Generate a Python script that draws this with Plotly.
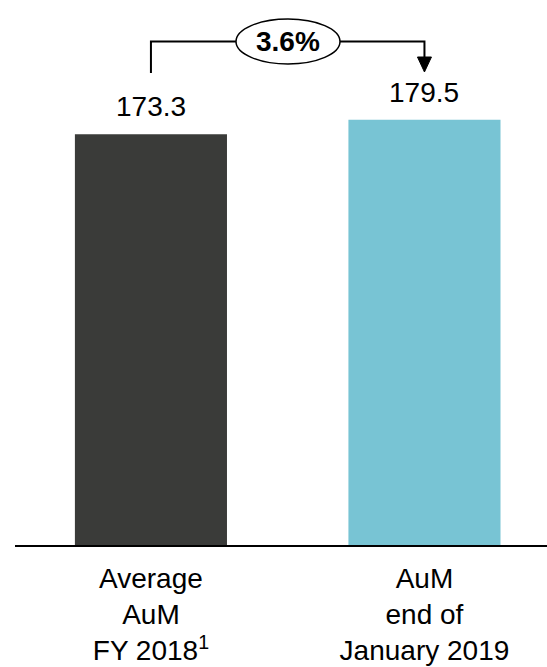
import plotly.graph_objects as go

# Assets under management (bn)
categories = ["Average<br>AuM<br>FY 2018<sup>1</sup>", "AuM<br>end of<br>January 2019"]
values = [173.3, 179.5]
bar_colors = ["#3a3b39", "#78c4d4"]
growth_label = "3.6%"

W, H = 547, 667
M_L, M_R, M_T, M_B = 15, 0, 0, 122
plot_h = H - M_T - M_B
x_range = [-0.497, 1.448]
y_max = 230

FONT = "Liberation Sans, Arial, sans-serif"


def px_to_x(px):
    span = x_range[1] - x_range[0]
    return x_range[0] + (px - M_L) / (W - M_L - M_R) * span


def py_to_paper(py):
    return 1 - (py - M_T) / plot_h


xs = list(range(len(values)))

fig = go.Figure()
fig.add_trace(go.Bar(
    x=xs, y=values, width=0.556,
    marker=dict(color=bar_colors, line=dict(width=0)),
    hoverinfo="skip",
))

# value labels above the bars
for x, v in zip(xs, values):
    fig.add_annotation(
        x=x, y=v, xref="x", yref="y", text=f"{v:.1f}", showarrow=False,
        yanchor="bottom", yshift=10,
        font=dict(family=FONT, size=28, color="#000000"),
    )

# growth bracket: from first bar to second bar with arrow
line_y = py_to_paper(41.5)
start_y = py_to_paper(73)
tip_y = py_to_paper(72)
head_y = py_to_paper(57)
x_a, x_b = xs[0], xs[1]
half_head = px_to_x(432) - px_to_x(425)

fig.add_shape(
    type="path", xref="x", yref="paper",
    path=f"M {x_a} {start_y} L {x_a} {line_y} L {x_b} {line_y} L {x_b} {head_y}",
    line=dict(color="#000000", width=2),
)
fig.add_shape(
    type="path", xref="x", yref="paper",
    path=f"M {x_b - half_head} {head_y} L {x_b + half_head} {head_y} L {x_b} {tip_y} Z",
    fillcolor="#000000", line=dict(color="#000000", width=1),
)
fig.add_shape(
    type="circle", xref="x", yref="paper",
    x0=px_to_x(236), x1=px_to_x(340),
    y0=py_to_paper(64), y1=py_to_paper(19),
    fillcolor="#ffffff", line=dict(color="#000000", width=1.5),
)
fig.add_annotation(
    x=(x_a + x_b) / 2, y=line_y, xref="x", yref="paper",
    xanchor="center", yanchor="middle",
    text=f"<b>{growth_label}</b>", showarrow=False,
    font=dict(family=FONT, size=28, color="#000000"),
)

fig.update_layout(
    width=W, height=H,
    margin=dict(l=M_L, r=M_R, t=M_T, b=M_B, pad=0),
    paper_bgcolor="#ffffff", plot_bgcolor="#ffffff",
    showlegend=False,
    xaxis=dict(
        range=x_range, tickvals=xs, ticktext=categories,
        showline=True, linecolor="#000000", linewidth=2,
        showgrid=False, zeroline=False, ticks="",
        tickfont=dict(family=FONT, size=28, color="#000000"),
        ticklabelstandoff=7,
    ),
    yaxis=dict(range=[0, y_max], visible=False, showgrid=False, zeroline=False),
)

fig.write_html("out.html")
